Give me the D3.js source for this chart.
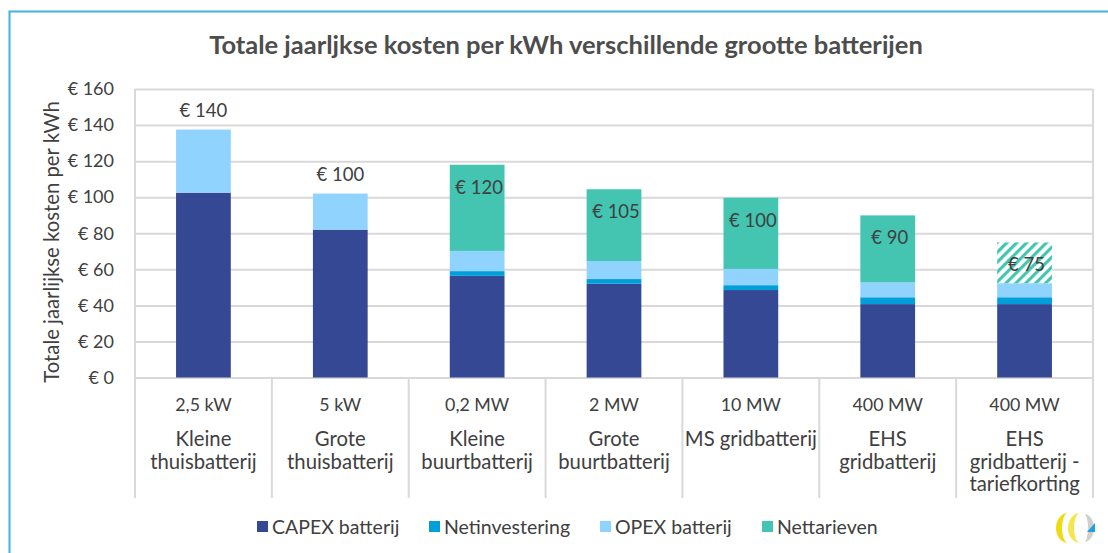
<!DOCTYPE html>
<html lang="nl">
<head>
  <meta charset="UTF-8">
  <title>Totale jaarlijkse kosten per kWh</title>
  <style>
    body { margin: 0; background: #fff; }
    svg { display: block; font-family: Lato, "Open Sans", sans-serif; }
  </style>
</head>
<body>

<svg width="1108" height="553"></svg>

<script src="https://d3js.org/d3.v7.min.js"></script>
<script>

// Data
let sizes = ["2,5 kW", "5 kW", "0,2 MW", "2 MW", "10 MW", "400 MW", "400 MW"];
let names = [
  ["Kleine", "thuisbatterij"],
  ["Grote", "thuisbatterij"],
  ["Kleine", "buurtbatterij"],
  ["Grote", "buurtbatterij"],
  ["MS gridbatterij"],
  ["EHS", "gridbatterij"],
  ["EHS", "gridbatterij -", "tariefkorting"]
];
let capex = [102.5, 82, 56.4, 52, 48.5, 40.7, 40.7];
let netinvestering = [0, 0, 2.6, 2.6, 2.7, 3.8, 3.8];
let opex = [35, 20, 11.2, 10, 9, 8.2, 7.8];
let nettarieven = [0, 0, 47.8, 39.8, 39.5, 37.2, 22.6];
let totalLabels = ["€ 140", "€ 100", "€ 120", "€ 105", "€ 100", "€ 90", "€ 75"];
let labelInside = [false, false, true, true, true, true, true];
let hatched = [false, false, false, false, false, false, true];

let seriesNames = ["CAPEX batterij", "Netinvestering", "OPEX batterij", "Nettarieven"];
let seriesColors = ["#344893", "#009fda", "#8fd3fe", "#43c5b2"];
let yTicks = [0, 20, 40, 60, 80, 100, 120, 140, 160];

let svg = d3.select("svg");
let textColor = "#404040";

// frame
svg.append("path")
    .attr("d", "M9.5,553 L9.5,11.5 L1108,11.5")
    .attr("fill", "none")
    .attr("stroke", "#3fb3e3")
    .attr("stroke-width", 2);

// title
svg.append("text")
    .attr("x", 566).attr("y", 54)
    .attr("text-anchor", "middle")
    .attr("font-size", 25.5)
    .attr("font-weight", "bold")
    .attr("fill", "#4d4d4d")
    .text("Totale jaarljkse kosten per kWh verschillende grootte batterijen");

// hatch pattern for the tariff-discount bar
let defs = svg.append("defs");
let pat = defs.append("pattern")
    .attr("id", "hatch")
    .attr("patternUnits", "userSpaceOnUse")
    .attr("width", 7).attr("height", 7)
    .attr("patternTransform", "rotate(45)");
pat.append("rect").attr("width", 7).attr("height", 7).attr("fill", "#fff");
pat.append("rect").attr("width", 3.2).attr("height", 7).attr("fill", "#43c5b2");

let plotLeft = 135, plotRight = 1093, plotTop = 89, plotBottom = 377.5;

let x = d3.scaleBand()
    .domain(d3.range(sizes.length))
    .range([plotLeft, plotRight])
    .paddingInner(0.6)
    .paddingOuter(0.3);

let y = d3.scaleLinear()
    .domain([0, 160])
    .range([plotBottom, plotTop]);

// gridlines
svg.append("g")
    .attr("transform", `translate(${plotLeft},0)`)
    .call(d3.axisLeft(y).tickValues(yTicks).tickSize(-(plotRight - plotLeft)).tickFormat(""))
    .call(g => g.select(".domain").remove())
    .call(g => g.selectAll("line").attr("stroke", "#d9d9d9").attr("stroke-width", 2));

// y tick labels
svg.append("g")
    .attr("transform", `translate(${plotLeft - 18},0)`)
    .call(d3.axisLeft(y).tickValues(yTicks).tickSize(0).tickFormat(d => "€ " + d))
    .call(g => g.select(".domain").remove())
    .call(g => g.selectAll("text")
        .attr("font-family", "Lato, 'Open Sans', sans-serif")
        .attr("font-size", 18)
        .attr("fill", textColor));

// y axis title
svg.append("text")
    .attr("transform", "translate(59,242) rotate(-90)")
    .attr("text-anchor", "middle")
    .attr("font-size", 20.3)
    .attr("fill", textColor)
    .text("Totale jaarlijkse kosten per kWh");

// category dividers (multi-level axis)
let step = x.step();
let dividers = d3.range(sizes.length + 1).map(i => plotLeft + i * step);
svg.append("g").selectAll("line")
    .data(dividers)
    .enter().append("line")
    .attr("x1", d => d).attr("x2", d => d)
    .attr("y1", (d, i) => (i == 0 || i == sizes.length) ? plotTop : plotBottom)
    .attr("y2", 498)
    .attr("stroke", "#d9d9d9")
    .attr("stroke-width", 2);

// stacked bars
let rows = sizes.map((s, i) => ({
  i: i,
  "CAPEX batterij": capex[i],
  "Netinvestering": netinvestering[i],
  "OPEX batterij": opex[i],
  "Nettarieven": nettarieven[i]
}));
let stacked = d3.stack().keys(seriesNames)(rows);

svg.append("g").selectAll("g")
    .data(stacked)
    .enter().append("g")
    .each(function(layer, li) {
      d3.select(this).selectAll("rect")
          .data(layer.filter(d => d[1] - d[0] > 0))
          .enter().append("rect")
          .attr("x", d => x(d.data.i))
          .attr("width", x.bandwidth())
          .attr("y", d => y(d[1]))
          .attr("height", d => y(d[0]) - y(d[1]))
          .attr("fill", d => (li == 3 && hatched[d.data.i]) ? "url(#hatch)" : seriesColors[li]);
    });

// total labels
let totals = rows.map((r, i) => capex[i] + netinvestering[i] + opex[i] + nettarieven[i]);
svg.append("g").selectAll("text")
    .data(totalLabels)
    .enter().append("text")
    .attr("x", (d, i) => x(i) + x.bandwidth() / 2 + (labelInside[i] ? 2 : 0))
    .attr("y", (d, i) => labelInside[i] ? y(totals[i]) + 29 : y(totals[i]) - 13)
    .attr("text-anchor", "middle")
    .attr("font-size", 18.5)
    .attr("fill", textColor)
    .text(d => d);

// category labels
let cat = svg.append("g").selectAll("g")
    .data(sizes)
    .enter().append("g")
    .attr("transform", (d, i) => `translate(${x(i) + x.bandwidth() / 2},0)`);
cat.append("text")
    .attr("y", 411)
    .attr("text-anchor", "middle")
    .attr("font-size", 17.8)
    .attr("fill", textColor)
    .text(d => d);
cat.each(function(d, i) {
  d3.select(this).selectAll("text.name")
      .data(names[i])
      .enter().append("text")
      .attr("class", "name")
      .attr("y", (t, j) => 446 + j * 22.5)
      .attr("text-anchor", "middle")
      .attr("font-size", 20.3)
      .attr("fill", textColor)
      .text(t => t);
});

// legend
let legendX = [257, 429, 600, 762];
let legend = svg.append("g").selectAll("g")
    .data(seriesNames)
    .enter().append("g")
    .attr("transform", (d, i) => `translate(${legendX[i]},527)`);
legend.append("rect")
    .attr("x", 0).attr("y", -6)
    .attr("width", 11).attr("height", 11)
    .attr("fill", (d, i) => seriesColors[i]);
legend.append("text")
    .attr("x", 15).attr("y", 6.5)
    .attr("font-size", 19.5)
    .attr("fill", textColor)
    .text(d => d);

// logo (rough)
function crescent(cx, ty, by, rOut, rIn, right) {
  let s = right ? 1 : 0;
  return `M${cx},${ty} A${rOut},${(by - ty) / 2} 0 0 ${s} ${cx},${by} A${rIn},${(by - ty) / 2} 0 0 ${1 - s} ${cx},${ty} Z`;
}
let logo = svg.append("g");
logo.append("path").attr("d", crescent(1084, 514, 542, 10, 4, true)).attr("fill", "#cfcfcf");
logo.append("path").attr("d", crescent(1068, 513, 543, 12, 6, false)).attr("fill", "#f0da14");
logo.append("path").attr("d", crescent(1080, 513, 543, 12, 6, false)).attr("fill", "#f5e650");
logo.append("path").attr("d", "M1087,532 L1095,523 L1095,532 Z").attr("fill", "#1ea0e0");

</script>

</body>
</html>
